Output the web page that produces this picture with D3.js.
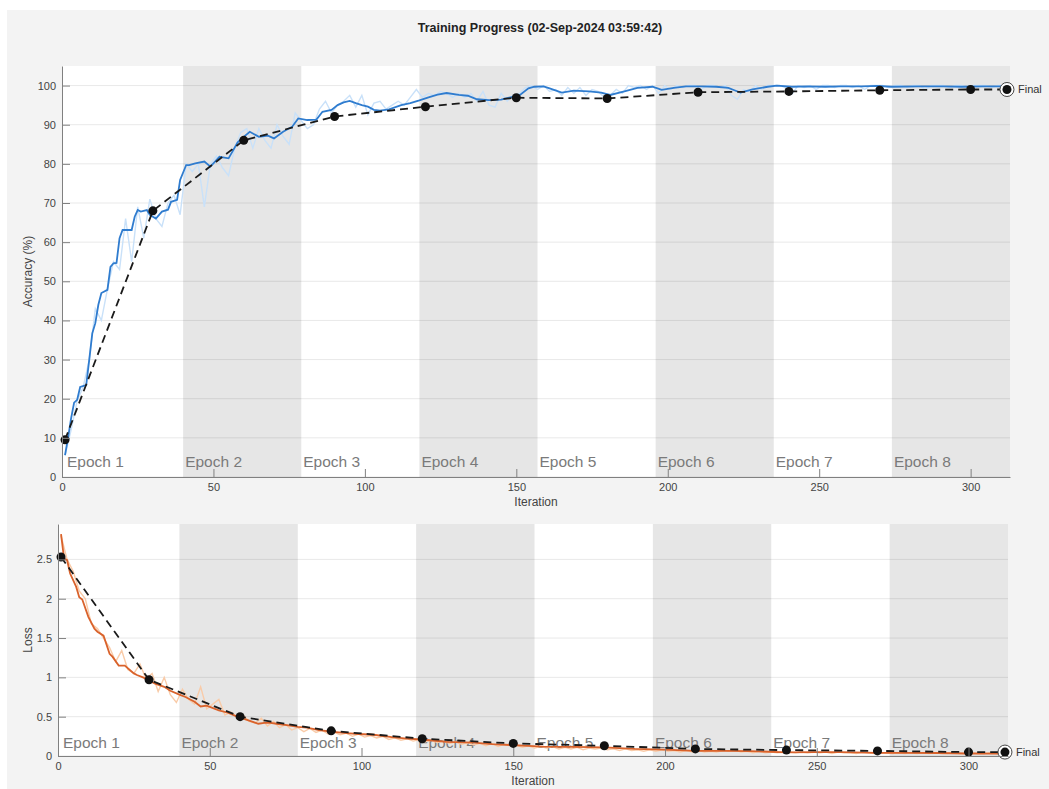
<!DOCTYPE html>
<html>
<head>
<meta charset="utf-8">
<script src="https://cdn.jsdelivr.net/npm/d3@7"></script>
<style>
  body { margin: 0; background: #fff; }
  svg { display: block; font-family: "Liberation Sans", Arial, sans-serif; }
</style>
</head>
<body>
<svg id="chart" width="1049" height="789"></svg>
<script>
// ---- data ----
var titleText = "Training Progress (02-Sep-2024 03:59:42)";
var epochBounds = [1, 40, 79, 118, 157, 196, 235, 274, 313];
var xTicks = [0, 50, 100, 150, 200, 250, 300];
var accTicks = [0, 10, 20, 30, 40, 50, 60, 70, 80, 90, 100];
var lossTicks = [0, 0.5, 1, 1.5, 2, 2.5];

// raw training accuracy, iterations 1,3,5,...,311
var accRaw = [
  5.5, 12, 19.5, 23, 30, 43, 40, 48, 55, 53,
  66, 55, 69, 61, 71, 66, 64, 70, 72, 67,
  80, 78, 80, 69, 80, 82, 79, 77, 84, 88,
  89, 84, 89, 86, 84, 90, 87, 85, 93, 91,
  89, 90, 94, 96, 93, 95, 96, 97.5, 94.5, 97.5,
  92.5, 95.5, 96, 94, 95, 96, 95, 97, 99, 97,
  98, 97.5, 98.5, 98, 97, 98, 97, 98, 96, 98.5,
  95, 94.5, 98, 96, 97.5, 98, 99.5, 100, 99, 100,
  98.5, 99, 97.5, 99.5, 98, 99.5, 97.5, 99, 98.5, 97,
  97.5, 99, 98, 100, 99.5, 100, 99, 100, 98, 100,
  99, 100, 99.5, 100, 100, 99, 100, 100, 99.5, 100,
  97.5, 96.5, 99, 98.5, 100, 99, 100, 100, 100, 99.5,
  97.8, 100, 99.5, 100, 99, 100, 100, 99.5, 100, 100,
  99.5, 100, 99, 100, 100, 100, 99.5, 100, 100, 99.5,
  100, 100, 99, 100, 100, 100, 99.5, 100, 100, 99.5,
  100, 100, 100, 99.5, 100, 100
];

// smoothed training accuracy
var accSmoothIter = [1, 2, 3, 4, 5, 6, 8, 9, 10, 11, 12, 13, 15, 16, 17, 18, 19, 20, 23, 24, 25, 26, 28, 29, 31, 33, 35, 36, 38, 39,
  41, 42, 44, 47, 49, 52, 55, 58, 60, 62, 65, 68, 70, 73, 76, 78, 81, 84, 86, 89, 91, 93, 95, 97, 99, 101, 103, 105, 108, 112,
  115, 118, 121, 124, 127, 131, 134, 137, 141, 145, 148, 151, 154, 156, 159, 161, 165, 169, 174, 178, 181, 186, 190, 195, 198, 202,
  206, 211, 216, 220, 222, 224, 228, 233, 236, 241, 246, 252, 257, 264, 269, 274, 283, 291, 297, 304, 312];
var accSmooth = [5.6, 10, 15, 19, 19.7, 23, 23.5, 30, 36.7, 39.3, 44, 47, 47.8, 53.7, 54.6, 54.7, 61, 63.1, 63.1, 66.5, 68.2, 67.8, 68.2, 67, 66, 67.8, 68.3, 70.3, 70.8, 75.9,
  79.7, 79.7, 80.1, 80.6, 79.3, 81.8, 81.4, 85.5, 86.9, 88.2, 86.9, 87.2, 86.5, 88.2, 89.5, 91.6, 91.2, 91.3, 93.3, 93.8, 95, 95.7, 96.1, 95.5, 95, 94.6, 93.8, 93.6, 93.9, 95,
  95.5, 96.2, 97, 97.7, 98.1, 97.6, 97.4, 96.5, 96.3, 96.4, 97, 97.5, 99.3, 99.7, 99.8, 99.3, 98.2, 98.7, 98.5, 98.2, 97.6, 98.6, 99.4, 99.7, 98.9, 99.4,
  99.8, 99.8, 99.7, 99.4, 98.8, 98.2, 99, 99.7, 100, 99.7, 99.8, 99.7, 99.8, 99.8, 99.9, 99.7, 99.8, 99.8, 99.7, 99.8, 99.8];

// validation points (shared iterations for both panels)
var valIter = [1, 30, 60, 90, 120, 150, 180, 210, 240, 270, 300, 312];
var valAcc = [9.5, 68, 86, 92.1, 94.6, 96.9, 96.7, 98.3, 98.5, 98.8, 99, 99];
var valLoss = [2.53, 0.97, 0.50, 0.32, 0.22, 0.16, 0.13, 0.09, 0.075, 0.065, 0.05, 0.05];

// raw training loss, iterations 1,3,5,...,311
var lossRaw = [
  2.8, 2.5, 2.35, 2.1, 2.0, 1.68, 1.62, 1.5, 1.38, 1.2,
  1.34, 1.1, 1.05, 1.17, 0.98, 1.05, 0.82, 1.0, 0.78, 0.68,
  0.85, 0.72, 0.66, 0.88, 0.6, 0.66, 0.72, 0.52, 0.56, 0.5,
  0.52, 0.44, 0.42, 0.48, 0.38, 0.44, 0.36, 0.4, 0.33, 0.36,
  0.31, 0.35, 0.3, 0.33, 0.28, 0.3, 0.27, 0.29, 0.25, 0.28,
  0.24, 0.26, 0.23, 0.25, 0.21, 0.23, 0.2, 0.22, 0.19, 0.21,
  0.18, 0.2, 0.17, 0.19, 0.16, 0.18, 0.15, 0.17, 0.14, 0.16,
  0.13, 0.16, 0.12, 0.15, 0.13, 0.14, 0.11, 0.13, 0.1, 0.12,
  0.1, 0.12, 0.09, 0.11, 0.09, 0.11, 0.08, 0.1, 0.09, 0.1,
  0.08, 0.09, 0.07, 0.09, 0.07, 0.08, 0.06, 0.08, 0.06, 0.08,
  0.06, 0.07, 0.05, 0.07, 0.05, 0.07, 0.05, 0.06, 0.05, 0.07,
  0.06, 0.08, 0.05, 0.06, 0.04, 0.06, 0.04, 0.05, 0.04, 0.05,
  0.05, 0.04, 0.05, 0.04, 0.05, 0.04, 0.05, 0.03, 0.05, 0.04,
  0.04, 0.03, 0.05, 0.04, 0.03, 0.04, 0.04, 0.03, 0.04, 0.03,
  0.04, 0.03, 0.04, 0.03, 0.04, 0.03, 0.03, 0.04, 0.03, 0.03,
  0.04, 0.03, 0.03, 0.04, 0.03, 0.03
];

// smoothed training loss
var lossSmoothIter = [1, 2, 3, 4, 6, 7, 8, 10, 12, 13, 15, 17, 18, 20, 22, 25, 26, 28, 30, 32, 35, 37, 40, 42, 45, 47, 49, 53, 56, 59,
  63, 66, 68, 70, 72, 76, 79, 82, 86, 90, 95, 99, 104, 110, 115, 120, 128, 137, 143, 149, 155, 160, 170, 180, 190, 200, 210, 220, 228, 240,
  250, 258, 270, 280, 290, 300, 312];
var lossSmooth = [2.82, 2.51, 2.49, 2.32, 2.15, 2.02, 1.99, 1.77, 1.62, 1.58, 1.53, 1.3, 1.26, 1.15, 1.15, 1.05, 1.03, 1.0, 0.96, 0.92, 0.88, 0.83, 0.78, 0.75, 0.69, 0.63, 0.64, 0.58, 0.55, 0.5,
  0.45, 0.41, 0.42, 0.42, 0.41, 0.39, 0.37, 0.36, 0.33, 0.31, 0.29, 0.28, 0.27, 0.24, 0.22, 0.21, 0.18, 0.17, 0.15, 0.14, 0.13, 0.12, 0.115, 0.11, 0.09, 0.08, 0.065, 0.065, 0.062, 0.047,
  0.05, 0.048, 0.04, 0.04, 0.038, 0.032, 0.03];

// ---- drawing ----
var svg = d3.select("#chart");
var W = 1049, H = 789;

svg.append("rect").attr("width", W).attr("height", H).attr("fill", "#fff");
svg.append("rect").attr("x", 7).attr("y", 10).attr("width", W - 7).attr("height", H - 10).attr("fill", "#f3f3f3");

svg.append("text")
  .attr("x", 540).attr("y", 32)
  .attr("text-anchor", "middle")
  .attr("font-size", 12.5).attr("font-weight", "bold")
  .attr("fill", "#222")
  .text(titleText);

function toPairs(iters, vals) {
  return vals.map(function (v, i) { return [iters[i], v]; });
}
function rawPairs(vals) {
  return vals.map(function (v, i) { return [1 + 2 * i, v]; });
}

function drawPanel(cfg) {
  var x = d3.scaleLinear().domain([0, 313]).range([cfg.left, cfg.right]);
  var y = d3.scaleLinear().domain([0, cfg.yMax]).range([cfg.bottom, cfg.top]);
  var g = svg.append("g");

  g.append("rect")
    .attr("x", cfg.left).attr("y", cfg.top)
    .attr("width", cfg.right - cfg.left).attr("height", cfg.bottom - cfg.top)
    .attr("fill", "#fff");

  var clipId = "clip-" + cfg.name;
  g.append("clipPath").attr("id", clipId)
    .append("rect")
    .attr("x", cfg.left).attr("y", cfg.top)
    .attr("width", cfg.right - cfg.left).attr("height", cfg.bottom - cfg.top);

  // epoch bands
  var epochs = d3.range(epochBounds.length - 1);
  g.selectAll(".band")
    .data(epochs.filter(function (e) { return e % 2 === 1; }))
    .enter().append("rect")
    .attr("x", function (e) { return x(epochBounds[e]); })
    .attr("width", function (e) { return x(epochBounds[e + 1]) - x(epochBounds[e]); })
    .attr("y", cfg.top).attr("height", cfg.bottom - cfg.top)
    .attr("fill", "#e6e6e6");

  // horizontal grid
  g.selectAll(".grid")
    .data(cfg.ticks)
    .enter().append("line")
    .attr("x1", cfg.left).attr("x2", cfg.right)
    .attr("y1", function (d) { return y(d); }).attr("y2", function (d) { return y(d); })
    .attr("stroke", "#000").attr("stroke-opacity", 0.09);

  // epoch labels
  g.selectAll(".elab")
    .data(epochs)
    .enter().append("text")
    .attr("x", function (e) { return x(epochBounds[e]) + 2; })
    .attr("y", cfg.bottom - cfg.epochOffset)
    .attr("font-size", 15.5)
    .attr("fill", "#7a7a7a")
    .text(function (e) { return "Epoch " + (e + 1); });

  var line = d3.line().x(function (d) { return x(d[0]); }).y(function (d) { return y(d[1]); });
  var plot = g.append("g").attr("clip-path", "url(#" + clipId + ")");

  plot.append("path").datum(rawPairs(cfg.raw))
    .attr("d", line).attr("fill", "none")
    .attr("stroke", cfg.rawColor).attr("stroke-width", 1.4);

  plot.append("path").datum(toPairs(cfg.smoothIter, cfg.smooth))
    .attr("d", line).attr("fill", "none")
    .attr("stroke", cfg.color).attr("stroke-width", 1.8);

  var valData = toPairs(valIter, cfg.val);
  plot.append("path").datum(valData)
    .attr("d", line).attr("fill", "none")
    .attr("stroke", "#1a1a1a").attr("stroke-width", 1.8)
    .attr("stroke-dasharray", "8,5");

  var last = valData[valData.length - 1];
  g.append("circle")
    .attr("cx", x(last[0])).attr("cy", y(last[1])).attr("r", 7)
    .attr("fill", "#fff").attr("stroke", "#444").attr("stroke-width", 1);

  g.selectAll(".vdot")
    .data(valData)
    .enter().append("circle")
    .attr("cx", function (d) { return x(d[0]); })
    .attr("cy", function (d) { return y(d[1]); })
    .attr("r", 4.5)
    .attr("fill", "#111");

  g.append("text")
    .attr("x", x(last[0]) + 11).attr("y", y(last[1]) + 4)
    .attr("font-size", 11).attr("fill", "#333")
    .text("Final");

  // axes
  var xAxis = d3.axisBottom(x).tickValues(xTicks).tickSize(-8).tickSizeOuter(0).tickPadding(6);
  var yAxis = d3.axisLeft(y).tickValues(cfg.ticks).tickSize(-8).tickSizeOuter(0).tickPadding(6)
    .tickFormat(d3.format("~g"));

  var gx = g.append("g").attr("transform", "translate(0," + cfg.bottom + ")").call(xAxis);
  var gy = g.append("g").attr("transform", "translate(" + cfg.left + ",0)").call(yAxis);
  [gx, gy].forEach(function (a) {
    a.select(".domain").attr("stroke", "#808080");
    a.selectAll(".tick line").attr("stroke", "#808080");
    a.selectAll(".tick text").attr("fill", "#444").attr("font-size", 11)
      .attr("font-family", "Liberation Sans, Arial, sans-serif");
  });

  g.append("text")
    .attr("x", (cfg.left + cfg.right) / 2).attr("y", cfg.bottom + 29)
    .attr("text-anchor", "middle").attr("font-size", 12).attr("fill", "#444")
    .text("Iteration");

  g.append("text")
    .attr("transform", "translate(32," + ((cfg.top + cfg.bottom) / 2) + ") rotate(-90)")
    .attr("text-anchor", "middle").attr("font-size", 12).attr("fill", "#444")
    .text(cfg.yLabel);
}

drawPanel({
  name: "acc", left: 62, right: 1010, top: 66, bottom: 477, yMax: 105,
  ticks: accTicks, yLabel: "Accuracy (%)", epochOffset: 10,
  raw: accRaw, smoothIter: accSmoothIter, smooth: accSmooth, val: valAcc,
  color: "#2f7ccf", rawColor: "#c9e1f9"
});

drawPanel({
  name: "loss", left: 58, right: 1008, top: 524, bottom: 756, yMax: 2.95,
  ticks: lossTicks, yLabel: "Loss", epochOffset: 8,
  raw: lossRaw, smoothIter: lossSmoothIter, smooth: lossSmooth, val: valLoss,
  color: "#d9622b", rawColor: "#f9cba8"
});
</script>
</body>
</html>
